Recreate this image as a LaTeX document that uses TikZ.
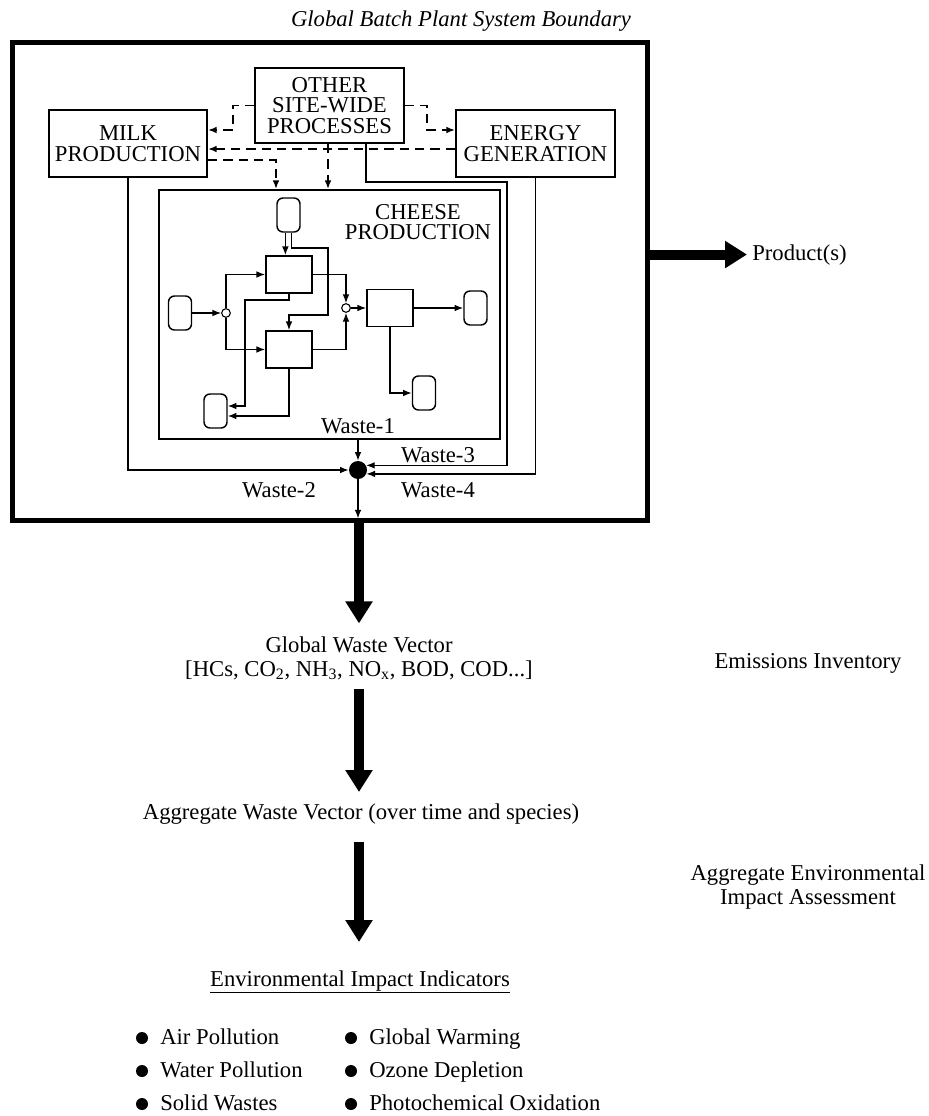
\documentclass[tikz,border=0pt]{standalone}
\usepackage{fontspec}
\setmainfont{Liberation Serif}
\usetikzlibrary{arrows.meta,positioning,calc}

\begin{document}
\begin{tikzpicture}[x=0.75pt,y=-0.75pt,>=Latex,
  every node/.style={font=\fontsize{17}{15.5}\selectfont},
  procbox/.style={draw,line width=1.4pt,align=center,inner sep=0pt},
  unitbox/.style={draw,line width=1.3pt,minimum width=34.5pt,minimum height=27.75pt,inner sep=0pt},
  tank/.style={draw,line width=1.1pt,rounded corners=4.5pt,minimum width=17.25pt,minimum height=25.5pt,inner sep=0pt},
  junc/.style={draw,circle,fill=white,line width=0.8pt,minimum size=6.5pt,inner sep=0pt},
  flow/.style={-{Latex[length=6.5pt,width=5pt]},line width=1pt},
  ctrl/.style={flow,line width=1.4pt,dash pattern=on 7pt off 4.5pt},
  bigarrow/.style={line width=7.5pt,-{Triangle[length=16.5pt,width=19.5pt]}},
  txt/.style={align=center,inner sep=0pt,font=\fontsize{17}{18}\selectfont},
  lbl/.style={anchor=base,inner sep=0pt},
  item/.style={anchor=base west,inner sep=0pt}]
\useasboundingbox (0,0) rectangle (928,1116);

% plant boundary and site-wide units
\node[lbl,font=\fontsize{17}{18}\selectfont\itshape] (title) at (461,27) {Global Batch Plant System Boundary};
\node[draw,line width=3.75pt,minimum width=476.25pt,minimum height=357.75pt] (boundary) at (329.5,281.5) {};
\node[procbox,minimum width=118.5pt,minimum height=50.25pt] (milk) at (128,143.5) {MILK\\PRODUCTION};
\node[procbox,minimum width=111.75pt,minimum height=56.25pt] (other) at (329.5,105.5) {OTHER\\SITE-WIDE\\PROCESSES};
\node[procbox,minimum width=119.25pt,minimum height=50.25pt] (energy) at (535.5,143.5) {ENERGY\\GENERATION};
\node[draw,line width=1.4pt,minimum width=255.75pt,minimum height=186.75pt] (cheese) at (329.5,314.5) {};
\node[align=center,inner sep=0pt] (cheeselbl) at (418,222) {CHEESE\\PRODUCTION};

% cheese production units
\node[tank] (feed) at (180,313) {};
\node[junc] (split) at (226,313) {};
\node[tank] (topt) at (288.5,215) {};
\node[unitbox] (u1) at (289,274.5) {};
\node[unitbox] (u2) at (289,349.5) {};
\node[junc] (mix) at (346,308) {};
\node[unitbox] (u3) at (390,308) {};
\node[tank] (prodt) at (475.5,308) {};
\node[tank] (sidet) at (424,393) {};
\node[tank] (wastet) at (215.5,411) {};
\coordinate (c1) at (328,248);
\coordinate (c2) at (328,315);
\coordinate (c3) at (245,300);

\draw[flow] (feed) -- (split);
\draw[flow] (split) |- (u1);
\draw[flow] (split) |- (u2);
\draw[flow] (topt.-100) -- (topt.-100 |- u1.north);
\draw[flow] (topt.-80) |- (c1) -- (c2) -| (u2.north);
\draw[flow] (u1.east) -| (mix.north);
\draw[flow] (u2.east) -| (mix.south);
\draw[flow] (mix) -- (u3);
\draw[flow] (u3) -- (prodt);
\draw[flow] (u3.south) |- (sidet.west);
\draw[flow] (u1.south) |- (c3) |- ([yshift=3.75pt]wastet.east);
\draw[flow] (u2.south) |- ([yshift=-3.75pt]wastet.east);

% dashed site links
\coordinate (d1) at (233,130);
\coordinate (d2) at (427,130);
\coordinate (d3) at (330,149);
\coordinate (d4) at (276,160);
\coordinate (d5) at (328,170);
\draw[ctrl] (other.west) -| (d1) -- (d1 -| milk.east);
\draw[ctrl] (other.east) -| (d2) -- (d2 -| energy.west);
\draw[ctrl] (d3 -| energy.west) -- (d3 -| milk.east);
\draw[ctrl] (d4 -| milk.east) -- (d4) -- (d4 |- cheese.north);
\draw[ctrl] (d5 |- other.south) -- (d5 |- cheese.north);

% waste collection
\node[circle,fill,minimum size=13.5pt,inner sep=0pt] (dot) at (358,470) {};
\coordinate (w3a) at (366,182);
\coordinate (w3b) at (507,182);
\draw[flow] (cheese.south -| dot) -- (dot.north);
\draw[flow] (milk.south) |- (dot.west);
\draw[flow] (w3a |- other.south) -- (w3a) -- (w3b) |- (dot.30);
\draw[flow] (energy.south) |- (dot.-25);
\draw[flow] (dot.south) -- ($(boundary.south -| dot)+(0,-4)$);
\node[lbl] (w1) at (358,433) {Waste-1};
\node[lbl] (w3) at (438,462) {Waste-3};
\node[lbl] (w2) at (279,497) {Waste-2};
\node[lbl] (w4) at (438,497) {Waste-4};

% product
\node[item] (prod) at (752,260) {Product(s)};
\draw[bigarrow,shorten >=3.75pt] (boundary.east |- prod.west) -- (prod.west);

% assessment chain
\node[txt] (gwv) at (359,658) {Global Waste Vector\\{[}HCs, CO\textsubscript{2}, NH\textsubscript{3}, NO\textsubscript{x}, BOD, COD...{]}};
\node[txt,anchor=base] (awv) at (361,819) {Aggregate Waste Vector (over time and species)};
\node[txt,anchor=base] (eii) at (360,986) {\underline{Environmental Impact Indicators}};
\node[txt,anchor=base] (emis) at (808,668) {Emissions Inventory};
\node[txt] (assess) at (808,887) {Aggregate Environmental\\Impact Assessment};
\draw[bigarrow,shorten >=9.5pt] (boundary.south -| gwv) -- (gwv.north);
\draw[bigarrow,shorten <=6.75pt,shorten >=8.25pt] (gwv.south) -- (gwv.south |- awv.north);
\draw[bigarrow,shorten <=13.5pt,shorten >=21pt] (gwv.south |- awv.south) -- (gwv.south |- eii.north);

% indicators
\foreach \yy in {1044,1077,1110} {
  \fill (142,\yy-6) circle[radius=4.5pt];
  \fill (351,\yy-6) circle[radius=4.5pt];
}
\node[item] (air) at (160,1044) {Air Pollution};
\node[item] (water) at (160,1077) {Water Pollution};
\node[item] (solid) at (160,1110) {Solid Wastes};
\node[item] (warm) at (369,1044) {Global Warming};
\node[item] (ozone) at (369,1077) {Ozone Depletion};
\node[item] (photo) at (369,1110) {Photochemical Oxidation};
\end{tikzpicture}
\end{document}
